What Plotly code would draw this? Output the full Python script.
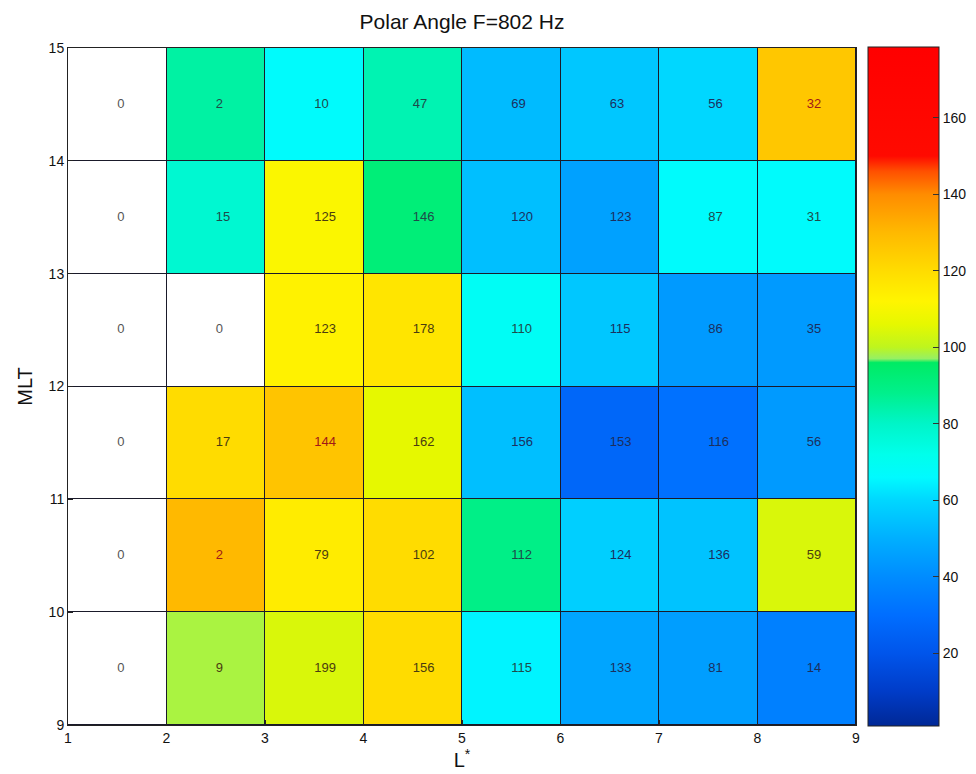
import plotly.graph_objects as go

# ---- data ----
l_edges = [1, 2, 3, 4, 5, 6, 7, 8, 9]
mlt_edges = [9, 10, 11, 12, 13, 14, 15]
l_centers = [1.5, 2.5, 3.5, 4.5, 5.5, 6.5, 7.5, 8.5]
mlt_centers = [9.5, 10.5, 11.5, 12.5, 13.5, 14.5]

# polar angle (colour), rows from MLT 9-10 (bottom) to 14-15 (top); None = no data
angle_9 = [None, 98.5, 104, 120, 65, 47, 45, 36]
angle_10 = [None, 130, 115, 120, 89, 58, 55, 104]
angle_11 = [None, 120, 127, 106, 54, 27, 31, 44]
angle_12 = [None, None, 113, 117, 69, 56, 44, 44]
angle_13 = [None, 78, 111, 92, 54, 46, 67, 67]
angle_14 = [None, 85, 67, 83, 53, 56, 60, 126]

# number of samples (cell labels)
count_9 = [0, 9, 199, 156, 115, 133, 81, 14]
count_10 = [0, 2, 79, 102, 112, 124, 136, 59]
count_11 = [0, 17, 144, 162, 156, 153, 116, 56]
count_12 = [0, 0, 123, 178, 110, 115, 86, 35]
count_13 = [0, 15, 125, 146, 120, 123, 87, 31]
count_14 = [0, 2, 10, 47, 69, 63, 56, 32]

cbar_ticks = [20, 40, 60, 80, 100, 120, 140, 160]
c_min, c_max = 1, 178.5

angles = [angle_9, angle_10, angle_11, angle_12, angle_13, angle_14]
counts = [count_9, count_10, count_11, count_12, count_13, count_14]

# colour map as seen on the reference colour bar (value, rgb)
cmap_pts = [
    (1, (0, 40, 150)), (10, (0, 60, 200)), (20, (0, 85, 235)), (30, (0, 110, 255)),
    (40, (0, 140, 255)), (50, (0, 175, 255)), (60, (0, 215, 255)), (66, (0, 250, 255)),
    (72, (0, 255, 235)), (80, (0, 245, 200)), (88, (0, 240, 140)), (96, (0, 235, 100)),
    (97, (150, 240, 100)), (100, (190, 245, 30)), (106, (230, 248, 0)), (112, (255, 245, 0)),
    (120, (255, 220, 0)), (130, (255, 185, 0)), (140, (255, 140, 0)), (146, (255, 80, 0)),
    (150, (255, 10, 0)), (178.5, (255, 0, 0)),
]
colorscale = [[(v - c_min) / (c_max - c_min), "rgb(%d,%d,%d)" % c] for v, c in cmap_pts]

# white cells where there is no data
empty = [[1 if a is None else None for a in row] for row in angles]

def text_color(a):
    if a is None:
        return "#555555"
    if a >= 124:
        return "#a01818"
    if a >= 98:
        return "#4a3c10"
    if a >= 62:
        return "#1f4a4a"
    return "#1c2f5e"

tx, ty, tt, tc = [], [], [], []
for j, yc in enumerate(mlt_centers):
    for i, xc in enumerate(l_centers):
        tx.append(xc)
        ty.append(yc)
        tt.append(str(counts[j][i]))
        tc.append(text_color(angles[j][i]))

fig = go.Figure()
fig.add_trace(go.Heatmap(
    x=l_centers, y=mlt_centers, z=empty,
    colorscale=[[0, "white"], [1, "white"]], showscale=False,
    xgap=1, ygap=1, hoverinfo="skip"))
fig.add_trace(go.Heatmap(
    x=l_centers, y=mlt_centers, z=angles,
    colorscale=colorscale, zmin=c_min, zmax=c_max,
    xgap=1, ygap=1,
    colorbar=dict(
        x=1.0152, xanchor="left", xpad=0, y=0.5, yanchor="middle", ypad=0,
        len=679, lenmode="pixels", thickness=71, thicknessmode="pixels",
        outlinewidth=1, outlinecolor="#222222",
        tickvals=cbar_ticks, ticks="inside", ticklen=6, tickcolor="#333333",
        tickfont=dict(family="Liberation Sans, Arial", size=14, color="#111111"),
    )))
fig.add_trace(go.Scatter(
    x=tx, y=ty, text=tt, mode="text", textposition="middle right",
    textfont=dict(family="Liberation Sans, Arial", size=13, color=tc),
    hoverinfo="skip", showlegend=False, cliponaxis=False))

axis_font = dict(family="Liberation Sans, Arial", size=14, color="#111111")
fig.update_layout(
    width=976, height=774,
    margin=dict(l=68, r=120, t=48, b=49, autoexpand=False),
    paper_bgcolor="white", plot_bgcolor="#1a1a2a",
    showlegend=False,
    title=dict(text="Polar Angle F=802 Hz", x=0.5, xref="paper", y=1 - 22 / 774,
               yref="container", yanchor="middle", xanchor="center",
               font=dict(family="Liberation Sans, Arial", size=21, color="#111111")),
    xaxis=dict(range=[l_edges[0], l_edges[-1]], tickvals=l_edges, ticks="inside", ticklen=5,
               tickcolor="#222222", showgrid=False, zeroline=False, showline=True, linecolor="#222222",
               linewidth=1, mirror=True, tickfont=axis_font,
               title=dict(text="L<sup>*</sup>", standoff=6,
                          font=dict(family="Liberation Sans, Arial", size=20, color="#111111"))),
    yaxis=dict(range=[mlt_edges[0], mlt_edges[-1]], tickvals=mlt_edges, ticks="inside", ticklen=5,
               tickcolor="#222222", showgrid=False, zeroline=False, showline=True, linecolor="#222222",
               linewidth=1, mirror=True, tickfont=axis_font,
               title=dict(text="MLT", standoff=10,
                          font=dict(family="Liberation Sans, Arial", size=20, color="#111111"))),
)

fig.write_html("out.html")
